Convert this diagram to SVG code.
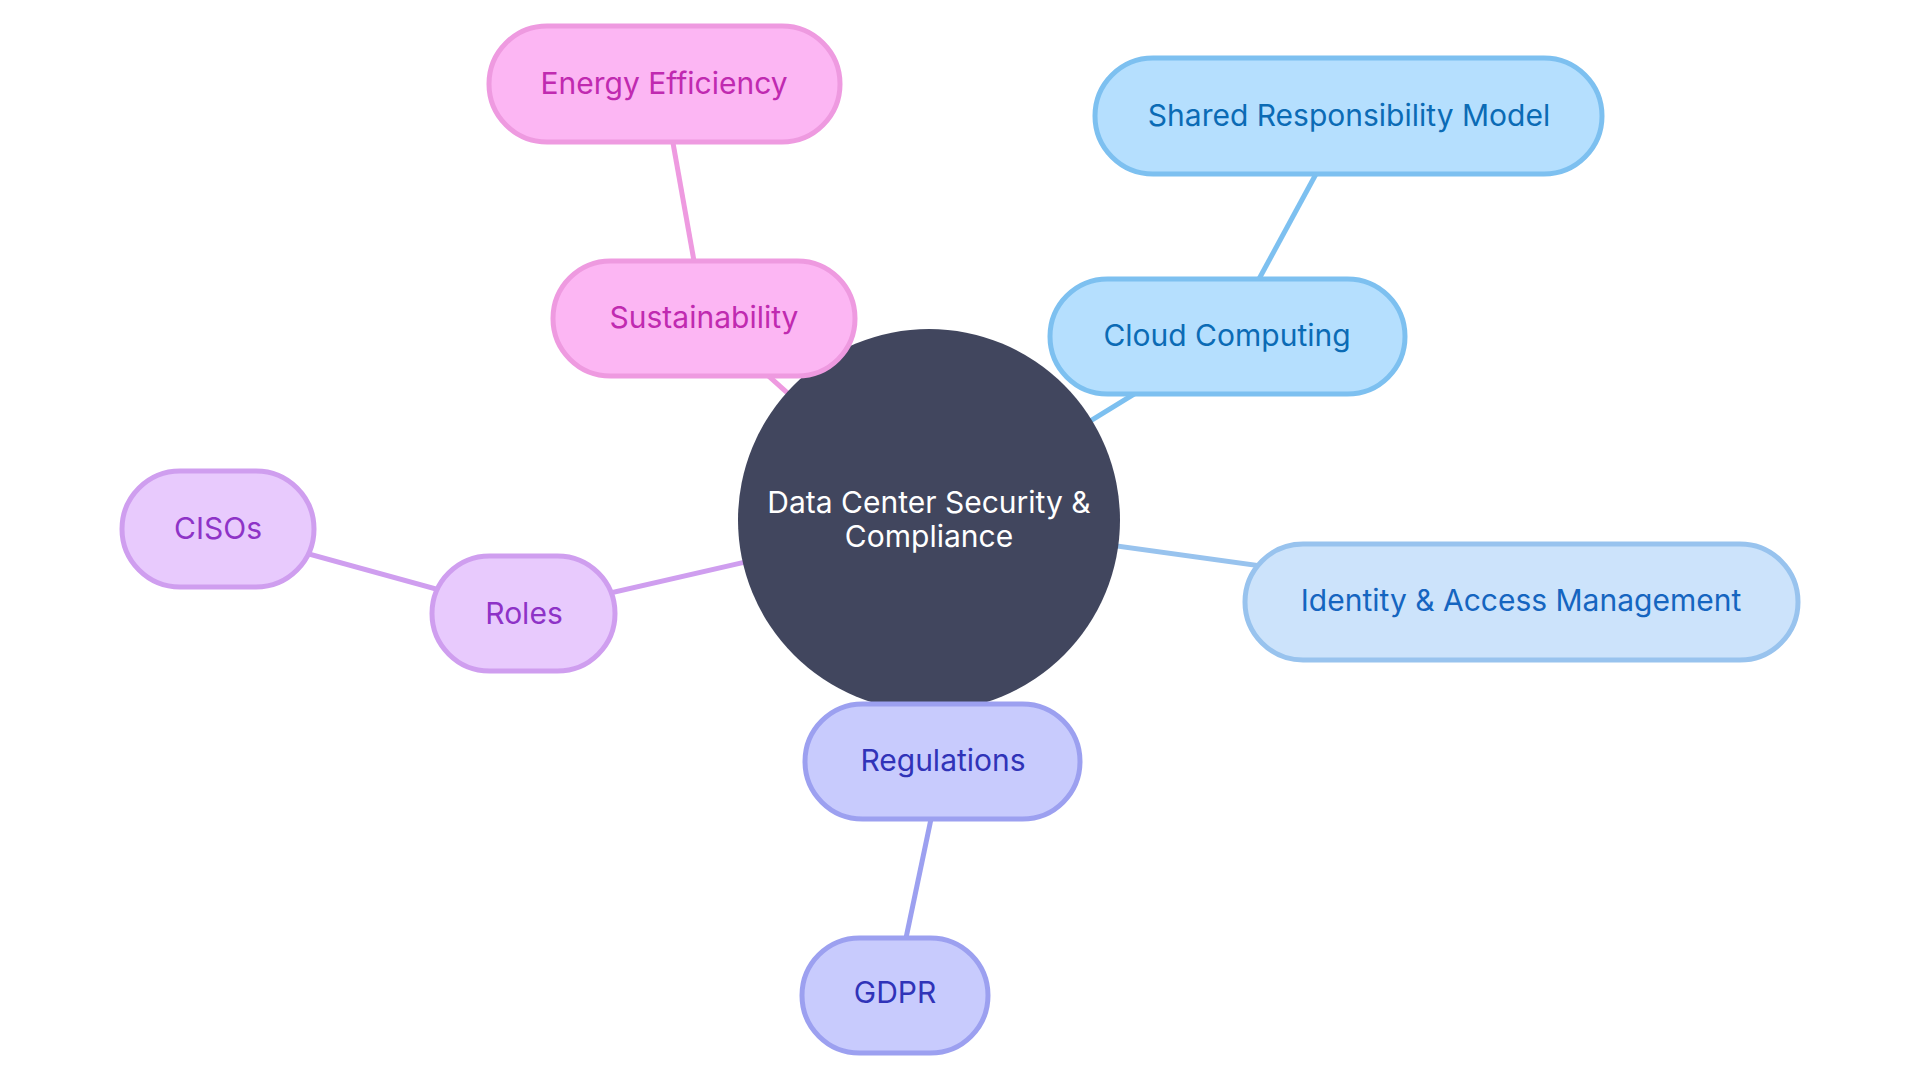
<svg xmlns="http://www.w3.org/2000/svg" width="1920" height="1080" viewBox="0 0 1920 1080">
<style>
text{font-family:Inter,"Noto Sans",sans-serif;font-size:30px;text-anchor:middle;dominant-baseline:central}
.e{stroke-width:5;fill:none}
.n rect{stroke-width:5}
.pink rect{fill:#FCB6F3;stroke:#EE9AE0}.pink text{fill:#C02AB0}
.cloud rect{fill:#B5DFFE;stroke:#7DC0F0}.cloud text{fill:#0B6BB5}
.iam rect{fill:#CCE3FB;stroke:#98C3EE}.iam text{fill:#1565C0}
.purp rect{fill:#E8CAFD;stroke:#CF9EEF}.purp text{fill:#8E33C7}
.ind rect{fill:#C8CBFD;stroke:#9CA0F0}.ind text{fill:#3033B8}
</style>
<rect width="1920" height="1080" fill="#ffffff"/>
<g id="connectors">
<line class="e" x1="673" y1="143" x2="694" y2="261" stroke="#EE9AE0"/>
<line class="e" x1="704" y1="318" x2="929" y2="520" stroke="#EE9AE0"/>
<line class="e" x1="1316" y1="174" x2="1259" y2="279" stroke="#7DC0F0"/>
<line class="e" x1="1227" y1="337" x2="929" y2="520" stroke="#7DC0F0"/>
<line class="e" x1="929" y1="520" x2="1521" y2="602" stroke="#98C3EE"/>
<line class="e" x1="218" y1="529" x2="523" y2="613" stroke="#CF9EEF"/>
<line class="e" x1="523" y1="613" x2="929" y2="520" stroke="#CF9EEF"/>
<line class="e" x1="931" y1="819" x2="906" y2="938" stroke="#9CA0F0"/>
</g>
<g id="center">
<circle cx="929" cy="520" r="191" fill="#41465E"/>
<text x="929" y="502" fill="#ffffff">Data Center Security &amp;</text>
<text x="929" y="536" fill="#ffffff">Compliance</text>
</g>
<g id="energy" class="n pink"><rect x="489" y="26" width="351" height="116" rx="58"/><text x="664" y="83">Energy Efficiency</text></g>
<g id="sustainability" class="n pink"><rect x="553" y="261" width="302" height="115" rx="57.5"/><text x="704" y="317">Sustainability</text></g>
<g id="srm" class="n cloud"><rect x="1095" y="58" width="507" height="116" rx="58"/><text x="1349" y="115">Shared Responsibility Model</text></g>
<g id="cloud" class="n cloud"><rect x="1050" y="279" width="355" height="115" rx="57.5"/><text x="1227" y="335">Cloud Computing</text></g>
<g id="iam" class="n iam"><rect x="1245" y="544" width="553" height="116" rx="58"/><text x="1521" y="600">Identity &amp; Access Management</text></g>
<g id="cisos" class="n purp"><rect x="122" y="471" width="192" height="116" rx="58"/><text x="218" y="528">CISOs</text></g>
<g id="roles" class="n purp"><rect x="432" y="556" width="183" height="115" rx="57.5"/><text x="524" y="613">Roles</text></g>
<g id="regulations" class="n ind"><rect x="805" y="704" width="275" height="115" rx="57.5"/><text x="943" y="760">Regulations</text></g>
<g id="gdpr" class="n ind"><rect x="802" y="938" width="186" height="115" rx="57.5"/><text x="895" y="992">GDPR</text></g>
</svg>
